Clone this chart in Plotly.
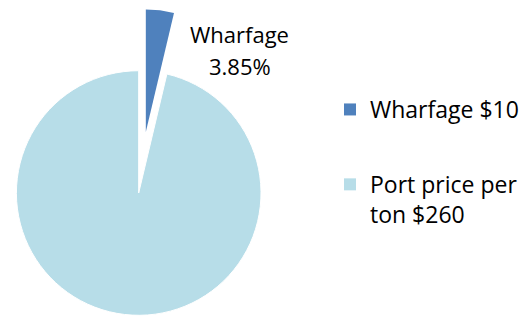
import math
import plotly.graph_objects as go

# ---- data ----
labels = ["Wharfage", "Port price per ton"]
values = [10, 260]
legend_labels = ["Wharfage $10", "Port price per<br>ton $260"]
colors = ["#4F81BD", "#B7DDE8"]

W, H = 524, 316
FONT = "Open Sans"
TRANSP = "rgba(0,0,0,0)"

total = sum(values)
# label in the source shows wharfage relative to port price
pct = values[0] / values[1] * 100

# geometry (pixels)
cx, cy, r = 139.5, 193.0, 123.0
pull_px = 61.5
mid = math.radians(360 * values[0] / total / 2)
pcx = cx + pull_px * math.sin(mid)
pcy = cy - pull_px * math.cos(mid)


def dom(x0, y0, rad):
    return dict(x=[(x0 - rad) / W, (x0 + rad) / W],
                y=[max(0.0, (H - y0 - rad) / H), min(1.0, (H - y0 + rad) / H)])


fig = go.Figure()

# legend carriers (tiny, hidden behind main pie)
for i in range(2):
    fig.add_trace(go.Pie(
        labels=[legend_labels[i]], values=[values[i]],
        marker=dict(colors=[colors[i]]),
        domain=dict(x=[0.25, 0.2502], y=[0.3, 0.3002]),
        textinfo="none", hoverinfo="skip", sort=False,
        legendgroup="g%d" % i, showlegend=True,
    ))

# main pie with a gap where the pulled slice was
fig.add_trace(go.Pie(
    labels=legend_labels, values=values,
    marker=dict(colors=[TRANSP, colors[1]], line=dict(color="white", width=1)),
    domain=dom(cx, cy, r),
    sort=False, direction="clockwise", rotation=0,
    textinfo="none", hoverinfo="skip", showlegend=False,
))

# pulled-out slice
fig.add_trace(go.Pie(
    labels=legend_labels, values=values,
    marker=dict(colors=[colors[0], TRANSP], line=dict(color="white", width=0)),
    domain=dom(pcx, pcy, r),
    sort=False, direction="clockwise", rotation=0,
    textinfo="none", hoverinfo="skip", showlegend=False,
))

fig.add_annotation(x=241 / W, y=1 - 34 / H, xref="paper", yref="paper",
                   text=labels[0], showarrow=False, yanchor="middle",
                   font=dict(family=FONT, size=22, color="#000000"))
fig.add_annotation(x=241 / W, y=1 - 66 / H, xref="paper", yref="paper",
                   text="%.2f%%" % pct, showarrow=False, yanchor="middle",
                   font=dict(family=FONT, size=22, color="#000000"))

fig.update_layout(
    width=W, height=H,
    margin=dict(l=0, r=0, t=0, b=0),
    paper_bgcolor="white", plot_bgcolor="white",
    showlegend=True,
    legend=dict(x=0.634, y=1 - 88 / H, xanchor="left", yanchor="top",
                font=dict(family=FONT, size=23, color="#000000"),
                tracegroupgap=42, valign="top", bgcolor="rgba(0,0,0,0)"),
)

fig.write_html("out.html", config={"displayModeBar": False},
               post_script="document.body.style.margin='0';document.body.style.overflow='hidden';")
